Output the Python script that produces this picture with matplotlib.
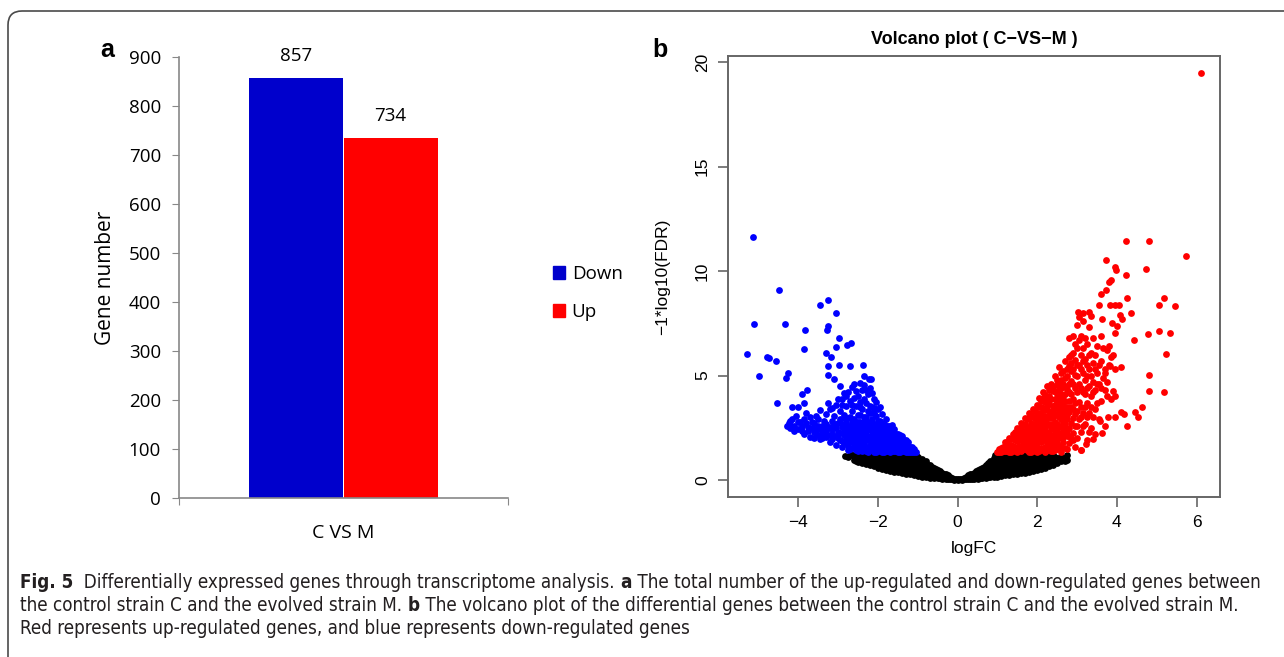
import numpy as np
import matplotlib
matplotlib.use('Agg')
import matplotlib.pyplot as plt
import matplotlib.font_manager as fm
from matplotlib.patches import FancyBboxPatch, Patch
from matplotlib.transforms import IdentityTransform

# ---- panel a: bar chart data ----
groups = ['Down', 'Up']
counts = [857, 734]
bar_colors = ['#0000CC', '#FF0000']
category = 'C VS M'

# ---- panel b: volcano data (logFC, -log10 FDR) ----
down_pts = [
    (-5.13, 11.64), (-4.48, 9.11), (-5.12, 7.45), (-4.35, 7.45), (-5.29, 6.04), (-4.99, 4.97),
    (-4.74, 5.82), (-4.78, 5.9), (-4.57, 5.7), (-4.31, 4.88), (-4.27, 5.14), (-4.54, 3.68),
    (-3.84, 7.16), (-3.87, 6.25), (-3.46, 8.36), (-3.26, 8.63), (-3.06, 7.98), (-3.25, 7.36),
    (-3.28, 7.16), (-2.97, 6.82), (-3.06, 6.37), (-2.77, 6.46), (-2.69, 6.54), (-3.31, 6.08),
    (-3.18, 5.87), (-3.27, 5.45), (-2.97, 5.51), (-2.7, 5.45), (-2.38, 5.51), (-3.27, 5.05),
    (-3.1, 4.83), (-2.35, 5.0), (-2.23, 4.83), (-2.18, 4.83), (-3.79, 4.33), (-3.9, 4.11),
    (-4.16, 3.51), (-4.0, 3.51), (-3.85, 3.68),
    (-4.25, 2.75), (-4.15, 2.9), (-4.1, 2.6), (-4.05, 3.05), (-4.0, 2.45), (-3.95, 2.8),
    (-4.2, 2.5), (-3.9, 2.35), (-3.85, 2.9), (-3.8, 3.2), (-3.75, 2.55), (-3.7, 2.05),
    (-3.65, 2.8), (-3.6, 2.3), (-3.55, 3.05), (-3.5, 2.6), (-3.45, 1.95), (-3.45, 3.35),
    (-3.4, 2.25), (-3.35, 2.85), (-3.3, 2.05), (-3.3, 3.15), (-3.25, 2.5), (-3.2, 1.8),
    (-3.2, 3.4), (-3.15, 2.2), (-3.1, 2.7), (-3.1, 3.05), (-3.05, 1.7), (-3.05, 3.6),
    (-3.0, 2.3), (-3.0, 2.0), (-2.95, 2.9), (-2.95, 3.3), (-2.9, 1.6), (-2.9, 2.55),
    (-2.9, 3.9), (-2.85, 2.15), (-2.85, 3.1), (-2.8, 1.85), (-2.8, 2.75), (-2.8, 3.55),
    (-2.75, 2.4), (-2.75, 4.2), (-2.7, 1.5), (-2.7, 2.05), (-2.7, 3.0), (-2.7, 3.8),
    (-2.65, 2.6), (-2.65, 3.3), (-2.6, 1.75), (-2.6, 2.25), (-2.6, 2.9), (-2.6, 4.6),
    (-2.55, 1.45), (-2.55, 2.0), (-2.55, 3.55), (-2.5, 2.5), (-2.5, 3.1), (-2.5, 4.0),
    (-2.45, 1.7), (-2.45, 2.25), (-2.45, 2.8), (-2.4, 1.4), (-2.4, 3.4), (-2.4, 4.3),
    (-2.35, 2.0), (-2.35, 2.6), (-2.35, 3.0), (-2.3, 1.6), (-2.3, 2.3), (-2.3, 3.7),
    (-2.25, 1.35), (-2.25, 2.8), (-2.25, 4.1), (-2.2, 1.85), (-2.2, 2.45), (-2.2, 3.2),
    (-2.15, 1.5), (-2.15, 2.15), (-2.15, 3.5), (-2.1, 1.35), (-2.1, 2.7), (-2.1, 3.9),
    (-2.05, 1.75), (-2.05, 2.35), (-2.05, 3.05), (-2.0, 1.45), (-2.0, 2.0), (-2.0, 2.6),
    (-2.0, 3.4), (-1.95, 1.6), (-1.95, 2.2), (-1.95, 2.85), (-1.9, 1.35), (-1.9, 1.9),
    (-1.9, 2.5), (-1.9, 3.15), (-1.85, 1.55), (-1.85, 2.1), (-1.85, 2.7), (-1.8, 1.4),
    (-1.8, 1.8), (-1.8, 2.35), (-1.8, 2.9), (-1.75, 1.6), (-1.75, 2.1), (-1.75, 2.6),
    (-1.7, 1.35), (-1.7, 1.85), (-1.7, 2.4), (-1.65, 1.55), (-1.65, 2.05), (-1.65, 2.65),
    (-1.6, 1.4), (-1.6, 1.8), (-1.6, 2.25), (-1.55, 1.6), (-1.55, 2.0), (-1.5, 1.35),
    (-1.5, 1.75), (-1.5, 2.2), (-1.45, 1.55), (-1.45, 1.95), (-1.4, 1.4), (-1.4, 1.75),
    (-1.4, 2.1), (-1.35, 1.55), (-1.35, 1.9), (-1.3, 1.35), (-1.3, 1.7), (-1.25, 1.5),
    (-1.25, 1.8), (-1.2, 1.35), (-1.2, 1.6), (-1.15, 1.45), (-1.1, 1.35),
    (-3.15, 2.45), (-2.95, 1.9), (-2.85, 2.45), (-2.75, 1.65), (-2.65, 2.0), (-2.5, 1.6),
    (-2.5, 2.25), (-2.4, 2.1), (-2.3, 1.9), (-2.2, 2.1), (-2.1, 1.9), (-2.05, 1.5),
    (-1.95, 1.85), (-1.85, 1.8), (-2.95, 4.5), (-2.85, 4.15), (-2.6, 3.95), (-2.45, 3.75),
    (-2.35, 4.55), (-2.2, 4.4), (-2.15, 4.15), (-2.05, 3.75), (-1.95, 3.5),
    (-3.6, 2.0), (-3.55, 2.45), (-3.5, 2.15), (-3.4, 2.6), (-3.35, 2.3), (-3.3, 2.7),
    (-3.25, 2.15), (-3.2, 2.55), (-3.15, 1.95), (-3.15, 2.85), (-3.05, 2.1), (-3.05, 2.5),
    (-3.0, 2.75), (-2.95, 2.25), (-2.9, 1.85), (-2.9, 2.7), (-2.85, 1.75), (-2.85, 2.95),
    (-2.8, 2.05), (-2.8, 2.3), (-2.75, 1.45), (-2.75, 2.6), (-2.75, 2.95), (-2.7, 1.8),
    (-2.7, 2.3), (-2.7, 2.55), (-2.65, 1.55), (-2.65, 2.8), (-2.6, 2.05), (-2.6, 2.5),
    (-2.55, 1.7), (-2.55, 2.3), (-2.55, 2.75), (-2.5, 1.4), (-2.5, 1.85), (-2.5, 2.8),
    (-2.45, 1.5), (-2.45, 2.0), (-2.45, 2.5), (-2.45, 3.1), (-2.4, 1.6), (-2.4, 1.85),
    (-2.4, 2.35), (-2.4, 2.7), (-2.35, 1.45), (-2.35, 1.75), (-2.35, 2.25), (-2.35, 2.8),
    (-2.3, 1.4), (-2.3, 2.1), (-2.3, 2.55), (-2.3, 3.0), (-2.25, 1.6), (-2.25, 2.0),
    (-2.25, 2.45), (-2.25, 3.3), (-2.2, 1.45), (-2.2, 1.65), (-2.2, 2.7), (-2.15, 1.8),
    (-2.15, 2.35), (-2.15, 2.9), (-2.1, 1.6), (-2.1, 2.2), (-2.1, 2.5), (-2.1, 3.2),
    (-2.05, 1.35), (-2.05, 2.0), (-2.05, 2.6), (-2.0, 1.65), (-2.0, 2.25), (-2.0, 2.85),
    (-1.95, 1.4), (-1.95, 2.05), (-1.95, 2.45), (-1.9, 1.7), (-1.9, 2.15), (-1.9, 2.75),
    (-1.85, 1.35), (-1.85, 1.95), (-1.85, 2.35), (-1.8, 1.6), (-1.8, 2.05), (-1.8, 2.6),
    (-1.75, 1.4), (-1.75, 1.85), (-1.75, 2.35), (-1.7, 1.6), (-1.7, 2.05), (-1.7, 2.6),
    (-1.65, 1.4), (-1.65, 1.8), (-1.65, 2.3), (-1.6, 1.6), (-1.6, 2.0), (-1.6, 2.45),
    (-1.55, 1.4), (-1.55, 1.8), (-1.55, 2.2), (-1.5, 1.55), (-1.5, 1.95), (-1.45, 1.35),
    (-1.45, 1.75), (-1.45, 2.15), (-1.4, 1.6), (-1.4, 1.9), (-1.35, 1.4), (-1.35, 1.75),
    (-1.3, 1.5), (-1.3, 1.9), (-1.25, 1.35), (-1.25, 1.65), (-1.2, 1.5), (-1.15, 1.35),
    (-1.15, 1.6), (-1.1, 1.5), (-1.05, 1.35),
    (-4.3, 2.6), (-4.2, 2.85), (-4.1, 2.35), (-4.0, 2.8), (-3.9, 2.6), (-3.85, 2.2),
    (-3.8, 2.75), (-3.75, 2.35), (-3.7, 3.0), (-3.65, 2.5), (-3.6, 2.75), (-3.55, 2.2),
    (-3.5, 2.9), (-3.45, 2.45), (-3.4, 2.0), (-3.35, 2.55), (-3.3, 2.35),
    (-3.25, 3.7), (-3.15, 3.45), (-3.0, 3.9), (-2.9, 3.6), (-2.8, 4.0), (-2.65, 3.6),
    (-2.55, 4.25), (-2.45, 3.5), (-2.35, 3.9), (-2.3, 4.3), (-2.2, 3.55), (-2.1, 3.45),
    (-2.45, 4.65), (-2.65, 4.45),
]

up_pts = [
    (6.12, 19.49), (4.24, 11.42), (4.8, 11.44), (5.73, 10.74), (3.72, 10.55), (3.96, 10.19),
    (3.97, 10.07), (4.72, 10.1), (4.22, 9.79), (3.86, 9.59), (3.81, 9.5), (3.73, 9.11),
    (3.6, 8.9), (4.25, 8.73), (5.18, 8.7), (3.55, 8.36), (3.83, 8.36), (3.96, 8.36),
    (4.05, 8.36), (5.05, 8.36), (5.46, 8.34), (4.35, 8.0), (4.09, 7.88), (4.14, 7.71),
    (3.03, 8.05), (3.16, 8.0), (3.3, 8.02), (3.35, 7.83), (3.05, 7.79), (3.62, 7.71),
    (3.88, 7.53), (3.99, 7.36), (5.06, 7.11), (5.33, 7.05), (4.79, 6.99), (3.96, 7.02),
    (4.42, 6.68), (5.23, 6.04), (4.11, 5.43), (4.81, 5.05), (4.81, 4.25), (5.19, 4.2),
    (4.63, 3.51), (4.45, 3.25), (4.53, 3.0), (4.25, 2.57), (4.17, 3.17), (4.11, 3.25),
    (3.91, 4.28), (3.94, 4.02), (3.78, 3.0), (3.94, 3.0), (3.57, 2.83), (3.63, 2.23),
    (3.4, 1.97), (3.22, 1.71), (3.09, 1.46), (3.75, 4.71), (3.83, 5.48), (3.86, 5.91),
    (3.69, 5.14),
    (1.0, 1.35), (1.05, 1.5), (1.1, 1.35), (1.15, 1.6), (1.2, 1.4), (1.2, 1.8),
    (1.25, 1.55), (1.3, 1.35), (1.3, 2.0), (1.35, 1.7), (1.4, 1.45), (1.4, 2.2),
    (1.45, 1.9), (1.5, 1.35), (1.5, 2.5), (1.55, 1.65), (1.55, 2.1), (1.6, 1.4),
    (1.6, 2.75), (1.65, 1.85), (1.65, 2.35), (1.7, 1.5), (1.7, 2.1), (1.7, 2.95),
    (1.75, 1.75), (1.75, 2.55), (1.8, 1.35), (1.8, 2.25), (1.8, 3.2), (1.85, 1.95),
    (1.85, 2.75), (1.9, 1.5), (1.9, 2.4), (1.9, 3.4), (1.95, 2.05), (1.95, 2.95),
    (2.0, 1.35), (2.0, 1.75), (2.0, 2.6), (2.0, 3.6), (2.05, 2.25), (2.05, 3.15),
    (2.05, 3.95), (2.1, 1.55), (2.1, 2.8), (2.1, 3.5), (2.15, 1.95), (2.15, 2.45),
    (2.15, 4.2), (2.2, 1.35), (2.2, 3.05), (2.2, 3.75), (2.25, 1.75), (2.25, 2.3),
    (2.25, 2.7), (2.25, 4.5), (2.3, 1.5), (2.3, 2.0), (2.3, 3.3), (2.3, 4.0),
    (2.35, 2.5), (2.35, 2.95), (2.35, 4.6), (2.4, 1.4), (2.4, 1.75), (2.4, 3.55),
    (2.4, 4.25), (2.45, 2.2), (2.45, 2.8), (2.45, 3.9), (2.45, 5.0), (2.5, 1.55),
    (2.5, 3.15), (2.5, 4.55), (2.55, 2.0), (2.55, 2.55), (2.55, 3.6), (2.55, 5.4),
    (2.6, 1.35), (2.6, 2.9), (2.6, 4.1), (2.6, 4.8), (2.65, 1.8), (2.65, 2.35),
    (2.65, 3.35), (2.65, 5.2), (2.7, 2.7), (2.7, 3.8), (2.7, 4.45), (2.7, 5.7),
    (2.75, 1.5), (2.75, 2.1), (2.75, 3.1), (2.75, 5.0), (2.8, 1.75), (2.8, 2.5),
    (2.8, 4.2), (2.8, 5.45), (2.8, 6.8), (2.85, 3.5), (2.85, 4.75), (2.85, 6.0),
    (2.9, 2.25), (2.9, 2.95), (2.9, 3.9), (2.9, 5.3), (2.9, 6.9), (2.95, 1.6),
    (2.95, 4.4), (2.95, 5.75), (3.0, 2.0), (3.0, 2.6), (3.0, 3.3), (3.0, 5.0),
    (3.0, 6.3), (3.0, 7.4), (3.05, 3.75), (3.05, 4.6), (3.05, 5.5), (3.1, 1.45),
    (3.1, 2.3), (3.1, 3.0), (3.1, 6.0), (3.1, 6.9), (3.15, 4.2), (3.15, 5.1),
    (3.15, 7.6), (3.2, 2.7), (3.2, 3.5), (3.2, 4.8), (3.2, 5.8), (3.25, 1.9),
    (3.25, 4.4), (3.25, 6.5), (3.3, 3.2), (3.3, 5.3), (3.3, 7.3), (3.35, 2.5),
    (3.35, 4.0), (3.35, 6.1), (3.4, 4.7), (3.4, 5.6), (3.4, 6.8), (3.45, 2.2),
    (3.45, 3.4), (3.45, 4.3), (3.5, 5.1), (3.5, 6.4), (3.55, 2.9), (3.55, 4.6),
    (3.6, 3.8), (3.6, 5.7), (3.6, 6.9), (3.65, 4.9), (3.7, 2.6), (3.7, 4.3),
    (3.75, 6.2), (3.8, 5.5), (3.85, 3.9), (3.9, 6.0), (3.95, 5.3),
    (1.45, 1.4), (1.6, 2.0), (1.75, 2.2), (1.85, 2.45), (1.95, 1.65), (2.05, 2.7),
    (2.1, 2.1), (2.2, 2.55), (2.35, 1.6), (2.4, 2.45), (2.5, 2.0), (2.5, 3.8),
    (2.55, 4.3), (2.6, 3.5), (2.7, 2.2), (2.7, 3.3),
    (1.05, 1.35), (1.1, 1.55), (1.15, 1.4), (1.2, 1.6), (1.25, 1.4), (1.25, 1.8),
    (1.3, 1.55), (1.35, 1.35), (1.35, 1.95), (1.4, 1.65), (1.4, 2.0), (1.45, 1.6),
    (1.45, 2.3), (1.5, 1.55), (1.5, 1.85), (1.5, 2.15), (1.55, 1.45), (1.55, 1.9),
    (1.55, 2.45), (1.6, 1.65), (1.6, 2.25), (1.6, 2.55), (1.65, 1.5), (1.65, 2.1),
    (1.65, 2.65), (1.7, 1.7), (1.7, 2.3), (1.7, 2.7), (1.75, 1.45), (1.75, 1.95),
    (1.75, 2.9), (1.8, 1.55), (1.8, 2.05), (1.8, 2.5), (1.8, 2.95), (1.85, 1.35),
    (1.85, 1.75), (1.85, 2.25), (1.85, 3.1), (1.9, 1.7), (1.9, 2.15), (1.9, 2.65),
    (1.9, 3.0), (1.95, 1.4), (1.95, 1.85), (1.95, 2.3), (1.95, 2.7), (1.95, 3.3),
    (2.0, 1.55), (2.0, 2.05), (2.0, 2.4), (2.0, 2.85), (2.0, 3.2), (2.05, 1.4),
    (2.05, 1.9), (2.05, 2.5), (2.05, 2.95), (2.05, 3.5), (2.1, 1.8), (2.1, 2.3),
    (2.1, 2.6), (2.1, 3.2), (2.1, 3.8), (2.15, 1.45), (2.15, 2.15), (2.15, 2.75),
    (2.15, 3.0), (2.15, 3.45), (2.15, 3.95), (2.2, 1.6), (2.2, 1.9), (2.2, 2.3),
    (2.2, 2.85), (2.2, 3.35), (2.2, 4.05), (2.25, 1.45), (2.25, 2.05), (2.25, 2.95),
    (2.25, 3.55), (2.25, 3.9), (2.3, 1.7), (2.3, 2.25), (2.3, 2.7), (2.3, 3.05),
    (2.3, 3.65), (2.3, 4.3), (2.35, 1.4), (2.35, 1.85), (2.35, 2.15), (2.35, 3.2),
    (2.35, 3.9), (2.4, 1.6), (2.4, 2.05), (2.4, 2.7), (2.4, 3.0), (2.4, 3.35),
    (2.4, 4.5), (2.45, 1.45), (2.45, 1.9), (2.45, 2.55), (2.45, 3.1), (2.45, 3.6),
    (2.45, 4.25), (2.5, 1.75), (2.5, 2.35), (2.5, 2.7), (2.5, 3.45), (2.5, 4.1),
    (2.5, 4.8), (2.55, 1.5), (2.55, 2.2), (2.55, 3.0), (2.55, 3.35), (2.55, 3.95),
    (2.55, 4.7), (2.6, 1.65), (2.6, 2.2), (2.6, 2.6), (2.6, 3.2), (2.6, 3.8),
    (2.6, 4.4), (2.6, 5.1), (2.65, 2.05), (2.65, 2.8), (2.65, 3.6), (2.65, 4.0),
    (2.65, 4.6), (2.7, 1.55), (2.7, 2.45), (2.7, 3.05), (2.7, 4.1), (2.7, 4.9),
    (2.75, 2.35), (2.75, 2.9), (2.75, 3.5), (2.75, 4.35), (2.75, 5.3), (2.8, 2.1),
    (2.8, 3.25), (2.8, 3.8), (2.8, 4.6), (2.8, 5.9), (2.85, 2.0), (2.85, 2.75),
    (2.85, 4.1), (2.85, 5.2), (2.85, 5.6), (2.9, 1.9), (2.9, 3.4), (2.9, 4.6),
    (2.9, 6.1), (2.95, 2.6), (2.95, 3.15), (2.95, 3.7), (2.95, 5.05), (2.95, 6.5),
    (3.0, 4.2), (3.0, 5.5), (3.05, 2.9), (3.05, 6.7), (3.1, 3.5), (3.1, 4.4),
    (3.1, 5.3), (3.15, 2.6), (3.15, 3.2), (3.15, 5.7), (3.15, 6.3), (3.2, 4.1),
    (3.2, 6.8), (3.25, 3.0), (3.25, 3.7), (3.25, 5.0), (3.25, 5.5), (3.3, 2.3),
    (3.3, 4.5), (3.3, 6.0), (3.35, 3.5), (3.35, 5.0), (3.4, 3.0), (3.4, 4.2),
    (3.45, 5.3), (3.45, 6.0), (3.5, 3.7), (3.5, 4.6), (3.55, 5.5), (3.6, 4.4),
    (3.65, 6.3), (3.7, 5.3), (3.75, 4.0), (3.8, 6.4),
]

ns_pts = [
    (-2.84, 1.16), (-2.75, 1.1), (-2.65, 1.2), (-2.6, 0.95), (-2.6, 1.2),
    (-2.5, 0.85), (-2.5, 1.05), (-2.5, 1.25), (-2.4, 0.8), (-2.4, 1.0), (-2.4, 1.2),
    (-2.3, 0.75), (-2.3, 0.95), (-2.3, 1.2), (-2.2, 0.7), (-2.2, 0.9), (-2.2, 1.15),
    (-2.1, 0.65), (-2.1, 0.85), (-2.1, 1.1), (-2.1, 1.25), (-2.0, 0.6), (-2.0, 0.8),
    (-2.0, 1.0), (-2.0, 1.2), (-1.9, 0.55), (-1.9, 0.75), (-1.9, 1.0), (-1.9, 1.2),
    (-1.8, 0.5), (-1.8, 0.7), (-1.8, 0.95), (-1.8, 1.2), (-1.7, 0.45), (-1.7, 0.65),
    (-1.7, 0.9), (-1.7, 1.15), (-1.6, 0.4), (-1.6, 0.6), (-1.6, 0.85), (-1.6, 1.1),
    (-1.6, 1.25), (-1.5, 0.38), (-1.5, 0.6), (-1.5, 0.85), (-1.5, 1.1), (-1.4, 0.33),
    (-1.4, 0.55), (-1.4, 0.8), (-1.4, 1.05), (-1.4, 1.25), (-1.3, 0.3), (-1.3, 0.5),
    (-1.3, 0.75), (-1.3, 1.0), (-1.3, 1.2), (-1.2, 0.27), (-1.2, 0.45), (-1.2, 0.7),
    (-1.2, 0.95), (-1.2, 1.2), (-1.1, 0.24), (-1.1, 0.4), (-1.1, 0.65), (-1.1, 0.9),
    (-1.1, 1.15), (-1.0, 0.2), (-1.0, 0.38), (-1.0, 0.6), (-1.0, 0.85), (-1.0, 1.1),
    (-0.9, 0.17), (-0.9, 0.33), (-0.9, 0.55), (-0.9, 0.8), (-0.9, 1.0), (-0.8, 0.14),
    (-0.8, 0.3), (-0.8, 0.5), (-0.8, 0.75), (-0.8, 0.9), (-0.7, 0.12), (-0.7, 0.25),
    (-0.7, 0.45), (-0.7, 0.7), (-0.6, 0.1), (-0.6, 0.22), (-0.6, 0.4), (-0.6, 0.58),
    (-0.5, 0.08), (-0.5, 0.2), (-0.5, 0.33), (-0.5, 0.48), (-0.4, 0.06), (-0.4, 0.15),
    (-0.4, 0.26), (-0.4, 0.36), (-0.3, 0.04), (-0.3, 0.12), (-0.3, 0.2), (-0.3, 0.27),
    (-0.2, 0.03), (-0.2, 0.1), (-0.2, 0.16), (-0.1, 0.02), (-0.1, 0.06), (0.0, 0.01),
    (0.0, 0.04), (0.1, 0.02), (0.1, 0.06), (0.2, 0.03), (0.2, 0.1), (0.2, 0.16),
    (0.3, 0.04), (0.3, 0.12), (0.3, 0.2), (0.3, 0.27), (0.4, 0.05), (0.4, 0.15),
    (0.4, 0.26), (0.4, 0.36), (0.5, 0.07), (0.5, 0.18), (0.5, 0.32), (0.5, 0.47),
    (0.6, 0.09), (0.6, 0.22), (0.6, 0.38), (0.6, 0.58), (0.7, 0.11), (0.7, 0.26),
    (0.7, 0.45), (0.7, 0.7), (0.8, 0.13), (0.8, 0.3), (0.8, 0.5), (0.8, 0.75),
    (0.8, 0.9), (0.9, 0.15), (0.9, 0.33), (0.9, 0.55), (0.9, 0.8), (0.9, 1.05),
    (1.0, 0.17), (1.0, 0.36), (1.0, 0.6), (1.0, 0.85), (1.0, 1.15), (1.1, 0.2),
    (1.1, 0.4), (1.1, 0.62), (1.1, 0.88), (1.1, 1.15), (1.2, 0.22), (1.2, 0.42),
    (1.2, 0.65), (1.2, 0.9), (1.2, 1.15), (1.3, 0.25), (1.3, 0.45), (1.3, 0.68),
    (1.3, 0.95), (1.3, 1.2), (1.4, 0.27), (1.4, 0.48), (1.4, 0.72), (1.4, 0.98),
    (1.4, 1.2), (1.5, 0.3), (1.5, 0.52), (1.5, 0.76), (1.5, 1.0), (1.5, 1.22),
    (1.6, 0.33), (1.6, 0.55), (1.6, 0.8), (1.6, 1.05), (1.7, 0.36), (1.7, 0.6),
    (1.7, 0.85), (1.7, 1.1), (1.8, 0.4), (1.8, 0.63), (1.8, 0.9), (1.8, 1.15),
    (1.9, 0.45), (1.9, 0.68), (1.9, 0.95), (1.9, 1.2), (2.0, 0.5), (2.0, 0.72),
    (2.0, 1.0), (2.0, 1.22), (2.1, 0.55), (2.1, 0.78), (2.1, 1.05), (2.1, 1.25),
    (2.2, 0.6), (2.2, 0.82), (2.2, 1.1), (2.3, 0.65), (2.3, 0.9), (2.3, 1.15),
    (2.4, 0.72), (2.4, 0.95), (2.4, 1.2), (2.5, 0.8), (2.5, 1.05), (2.6, 0.9),
    (2.6, 1.15), (2.75, 1.2), (2.75, 0.95),
    (-2.7, 1.2), (-2.55, 1.1), (-2.55, 0.9), (-2.45, 0.95), (-2.45, 1.15), (-2.35, 0.85),
    (-2.35, 1.1), (-2.25, 0.8), (-2.25, 1.05), (-2.15, 0.75), (-2.15, 1.0), (-2.15, 1.22),
    (-2.05, 0.7), (-2.05, 0.95), (-2.05, 1.12), (-1.95, 0.65), (-1.95, 0.9), (-1.95, 1.1),
    (-1.85, 0.6), (-1.85, 0.85), (-1.85, 1.08), (-1.75, 0.55), (-1.75, 0.8), (-1.75, 1.05),
    (-1.75, 1.24), (-1.65, 0.5), (-1.65, 0.75), (-1.65, 1.0), (-1.55, 0.48), (-1.55, 0.72),
    (-1.55, 0.98), (-1.55, 1.22), (-1.45, 0.45), (-1.45, 0.7), (-1.45, 0.95), (-1.45, 1.18),
    (-1.35, 0.4), (-1.35, 0.62), (-1.35, 0.88), (-1.35, 1.12), (-1.25, 0.36), (-1.25, 0.58),
    (-1.25, 0.82), (-1.25, 1.08), (-1.15, 0.32), (-1.15, 0.52), (-1.15, 0.78), (-1.15, 1.02),
    (-1.05, 0.29), (-1.05, 0.48), (-1.05, 0.72), (-1.05, 0.98), (-1.05, 1.2), (-0.95, 0.25),
    (-0.95, 0.44), (-0.95, 0.68), (-0.95, 0.9), (-0.85, 0.22), (-0.85, 0.4), (-0.85, 0.62),
    (-0.85, 0.82), (-0.75, 0.18), (-0.75, 0.35), (-0.75, 0.55), (-0.75, 0.72), (-0.65, 0.16),
    (-0.65, 0.3), (-0.65, 0.48), (-0.65, 0.62), (-0.55, 0.13), (-0.55, 0.26), (-0.55, 0.4),
    (-0.55, 0.52), (-0.45, 0.1), (-0.45, 0.2), (-0.45, 0.32), (-0.45, 0.42), (-0.35, 0.08),
    (-0.35, 0.16), (-0.35, 0.3), (-0.25, 0.06), (-0.25, 0.14), (-0.25, 0.22), (-0.15, 0.04),
    (-0.15, 0.1), (-0.05, 0.03), (0.05, 0.03), (0.15, 0.04), (0.15, 0.1), (0.25, 0.06),
    (0.25, 0.14), (0.25, 0.22), (0.35, 0.07), (0.35, 0.16), (0.35, 0.3), (0.45, 0.09),
    (0.45, 0.2), (0.45, 0.32), (0.45, 0.42), (0.55, 0.11), (0.55, 0.25), (0.55, 0.4),
    (0.55, 0.52), (0.65, 0.14), (0.65, 0.3), (0.65, 0.48), (0.65, 0.64), (0.75, 0.17),
    (0.75, 0.36), (0.75, 0.56), (0.75, 0.8), (0.85, 0.2), (0.85, 0.4), (0.85, 0.62),
    (0.85, 0.86), (0.95, 0.22), (0.95, 0.45), (0.95, 0.7), (0.95, 0.95), (0.95, 1.2),
    (1.05, 0.25), (1.05, 0.5), (1.05, 0.75), (1.05, 1.0), (1.05, 1.22), (1.15, 0.28),
    (1.15, 0.52), (1.15, 0.78), (1.15, 1.02), (1.25, 0.32), (1.25, 0.55), (1.25, 0.82),
    (1.25, 1.05), (1.35, 0.35), (1.35, 0.6), (1.35, 0.85), (1.35, 1.1), (1.45, 0.38),
    (1.45, 0.62), (1.45, 0.88), (1.45, 1.12), (1.55, 0.42), (1.55, 0.66), (1.55, 0.9),
    (1.55, 1.15), (1.65, 0.45), (1.65, 0.7), (1.65, 0.95), (1.65, 1.2), (1.75, 0.5),
    (1.75, 0.75), (1.75, 1.0), (1.75, 1.22), (1.85, 0.55), (1.85, 0.8), (1.85, 1.05),
    (1.95, 0.6), (1.95, 0.85), (1.95, 1.1), (2.05, 0.65), (2.05, 0.9), (2.05, 1.15),
    (2.15, 0.7), (2.15, 0.95), (2.15, 1.2), (2.25, 0.75), (2.25, 1.0), (2.35, 0.82),
    (2.35, 1.05), (2.45, 0.88), (2.45, 1.12), (2.55, 0.95), (2.65, 1.05), (2.7, 0.9),
]

W, H = 1284, 657
fig = plt.figure(figsize=(W / 100, H / 100), dpi=100)

# outer rounded frame (pixel coords)
frame = FancyBboxPatch((8, -40), 1320, 40 + H - 11, boxstyle='round,pad=0,rounding_size=14',
                       transform=IdentityTransform(), fc='none', ec='#4a4a4a', lw=1.2)
fig.patches.append(frame)

bar_font = ['Open Sans', 'DejaVu Sans']

# ------------------ panel a ------------------
ax1 = fig.add_axes([179 / W, 1 - 498 / H, (508 - 179) / W, (498 - 57) / H])
bw = 0.286
xs = [0.5 - bw / 2, 0.5 + bw / 2]
ax1.bar(xs, counts, width=bw, color=bar_colors, linewidth=0)
for x, c in zip(xs, counts):
    ax1.text(x, c + 46, str(c), ha='center', va='center', fontsize=13.5, family=bar_font)
ax1.set_xlim(0, 1)
ax1.set_ylim(0, 900)
ax1.set_yticks(range(0, 901, 100))
ax1.set_yticklabels([str(v) for v in range(0, 901, 100)], family=bar_font, fontsize=13.5)
ax1.set_xticks([0, 1])
ax1.set_xticklabels(['', ''])
ax1.set_xticks([0.5], minor=True)
ax1.set_xticklabels([category], minor=True, family=bar_font, fontsize=14)
ax1.tick_params(axis='x', which='minor', length=0, pad=19)
ax1.tick_params(axis='x', which='major', length=5, color='#888888', direction='out')
ax1.tick_params(axis='y', length=5, color='#888888', direction='out', pad=8)
for s in ['top', 'right']:
    ax1.spines[s].set_visible(False)
for s in ['left', 'bottom']:
    ax1.spines[s].set_color('#888888')
    ax1.spines[s].set_linewidth(1.2)
ax1.set_ylabel('Gene number', family=bar_font, fontsize=15, labelpad=9)
handles = [Patch(color=c) for c in bar_colors]
fig.legend(handles, groups, loc='center left', bbox_to_anchor=(536 / W, 1 - 293 / H),
           frameon=False, handlelength=0.65, handleheight=0.65, handletextpad=0.35,
           labelspacing=1.05, prop={'family': bar_font, 'size': 13.5})
fig.text(107 / W, 1 - 50 / H, 'a', fontsize=18, fontweight='bold', ha='center', va='center',
         family='Liberation Sans')

# ------------------ panel b ------------------
r_font = 'Liberation Sans'
ax2 = fig.add_axes([728 / W, 1 - 497 / H, (1220 - 728) / W, (497 - 56) / H])
for pts, col in [(ns_pts, 'black'), (down_pts, '#0000FF'), (up_pts, '#FF0000')]:
    arr = np.array(pts)
    ax2.scatter(arr[:, 0], arr[:, 1], s=24, c=col, linewidths=0)
ax2.set_xlim(-5.77, 6.59)
ax2.set_ylim(-0.81, 20.29)
ax2.set_xticks([-4, -2, 0, 2, 4, 6])
ax2.set_yticks([0, 5, 10, 15, 20])
ax2.tick_params(length=7, color='#666666', width=1.2, labelsize=12.5, pad=6)
for lab in ax2.get_xticklabels() + ax2.get_yticklabels():
    lab.set_family(r_font)
for lab in ax2.get_yticklabels():
    lab.set_rotation(90)
    lab.set_va('center')
for s in ax2.spines.values():
    s.set_color('#666666')
    s.set_linewidth(1.4)
ax2.set_title('Volcano plot ( C\u2212VS\u2212M )', fontsize=13, fontweight='bold', family=r_font, pad=9)
ax2.set_xlabel('logFC', fontsize=12.5, family=r_font, labelpad=8)
ax2.set_ylabel('\u22121*log10(FDR)', fontsize=12.5, family=r_font, labelpad=18)
fig.text(660 / W, 1 - 50 / H, 'b', fontsize=18, fontweight='bold', ha='center', va='center',
         family='Liberation Sans')

# ------------------ caption ------------------
# pick a narrow face if one is installed
faces = {(f.name, f.stretch) for f in fm.fontManager.ttflist}
cap_family, cap_stretch = 'Liberation Sans', 'normal'
if any(n == 'Liberation Sans Narrow' for n, _ in faces):
    cap_family = 'Liberation Sans Narrow'
elif any(n == 'DejaVu Sans' and 'condensed' in str(st) for n, st in faces):
    cap_family, cap_stretch = 'DejaVu Sans', 'condensed'

cap_lines = [
    [('Fig. 5', True), ('  Differentially expressed genes through transcriptome analysis. ', False), ('a', True),
     (' The total number of the up-regulated and down-regulated genes between', False)],
    [('the control strain C and the evolved strain M. ', False), ('b', True),
     (' The volcano plot of the differential genes between the control strain C and the evolved strain M.', False)],
    [('Red represents up-regulated genes, and blue represents down-regulated genes', False)],
]
cap_base = [588, 611, 634]
renderer = fig.canvas.get_renderer()


def draw_caption(size):
    made, widths = [], []
    for runs, yb in zip(cap_lines, cap_base):
        x = 20
        for txt, bold in runs:
            t = fig.text(x, H - yb, txt, transform=IdentityTransform(), fontsize=size,
                         family=[cap_family, 'DejaVu Sans'], fontstretch=cap_stretch,
                         fontweight='bold' if bold else 'normal', color='#231f20',
                         va='baseline', ha='left')
            made.append(t)
            x += t.get_window_extent(renderer).width
        widths.append(x - 20)
    return made, widths


texts, widths = draw_caption(12.5)
size = min(13.5, 12.5 * 1246 / widths[0])
for t in texts:
    t.remove()
draw_caption(size)

fig.savefig('out.png', dpi=100)
